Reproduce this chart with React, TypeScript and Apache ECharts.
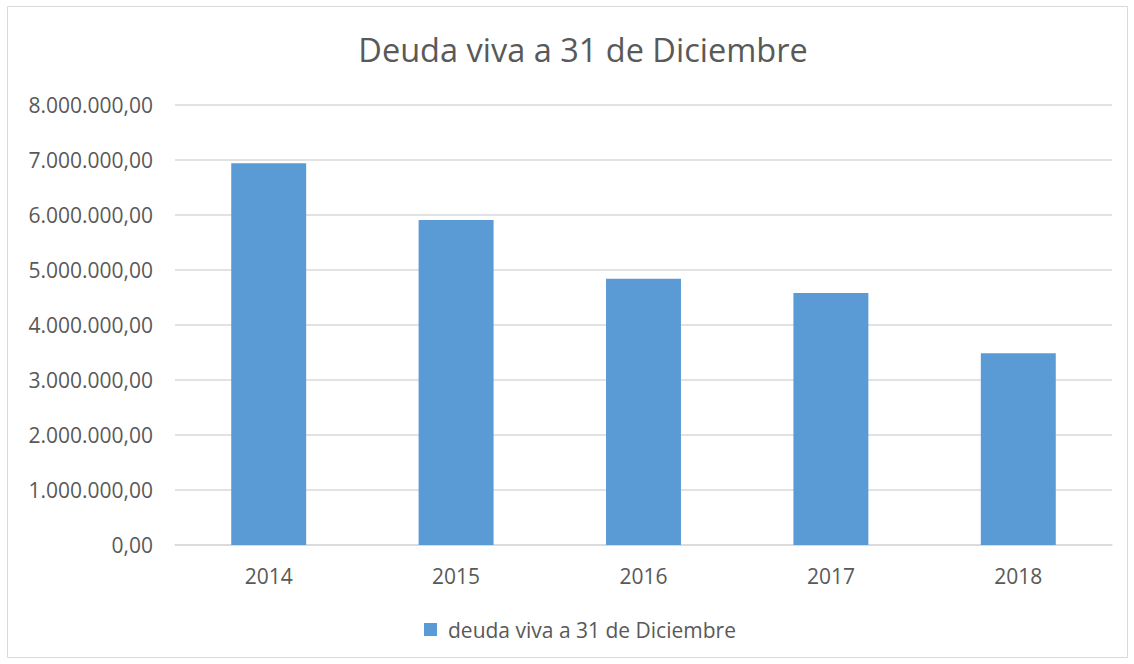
import React, { useEffect, useRef } from "react";
import * as echarts from "echarts";

const categories = ["2014", "2015", "2016", "2017", "2018"];
const seriesName = "deuda viva a 31 de Diciembre";
const values = [6940000, 5910000, 4840000, 4580000, 3485000];
const yTicks = [0, 1000000, 2000000, 3000000, 4000000, 5000000, 6000000, 7000000, 8000000];

function fmt(v: number): string {
  const s = Math.round(v).toString().replace(/\B(?=(\d{3})+(?!\d))/g, ".");
  return s + ",00";
}

export default function App() {
  const ref = useRef<HTMLDivElement>(null);
  useEffect(() => {
    if (!ref.current) return;
    const chart = echarts.init(ref.current, null, { renderer: "svg" });
    const font = "'Open Sans', 'Noto Sans', sans-serif";
    chart.setOption({
      animation: false,
      backgroundColor: "#ffffff",
      textStyle: { fontFamily: font },
      title: {
        text: "Deuda viva a 31 de Diciembre",
        left: 578,
        textAlign: "center",
        top: 28,
        textStyle: { fontSize: 32.5, fontWeight: "normal", color: "#595959", fontFamily: font },
      },
      graphic: [
        {
          type: "rect",
          shape: { x: 7.5, y: 6.5, width: 1120, height: 651 },
          style: { fill: "none", stroke: "#D9D9D9", lineWidth: 1 },
          silent: true,
        },
      ],
      legend: {
        top: 614,
        left: 419,
        itemWidth: 13,
        itemHeight: 13,
        itemGap: 10,
        textStyle: { fontSize: 21, color: "#595959", fontFamily: font, padding: [0, 0, 0, 6] },
        data: [{ name: seriesName, icon: "rect" }],
      },
      grid: { left: 175, right: 22, top: 105, bottom: 119, containLabel: false },
      xAxis: {
        type: "category",
        data: categories,
        axisLine: { lineStyle: { color: "#D9D9D9", width: 1.5 } },
        axisTick: { show: false },
        axisLabel: { color: "#595959", fontSize: 21, margin: 20, fontFamily: font },
      },
      yAxis: {
        type: "value",
        min: yTicks[0],
        max: yTicks[yTicks.length - 1],
        interval: 1000000,
        axisLine: { show: false },
        axisTick: { show: false },
        splitLine: { lineStyle: { color: "#D9D9D9", width: 1.5 } },
        axisLabel: { color: "#595959", fontSize: 21, margin: 22, fontFamily: font, formatter: (v: number) => fmt(v) },
      },
      series: [
        {
          name: seriesName,
          type: "bar",
          data: values,
          barWidth: "40%",
          itemStyle: { color: "#5B9BD5" },
        },
      ],
    });
    return () => chart.dispose();
  }, []);
  return (
    <div
      ref={ref}
      style={{ position: "fixed", left: 0, top: 0, width: 1134, height: 664 }}
    />
  );
}
